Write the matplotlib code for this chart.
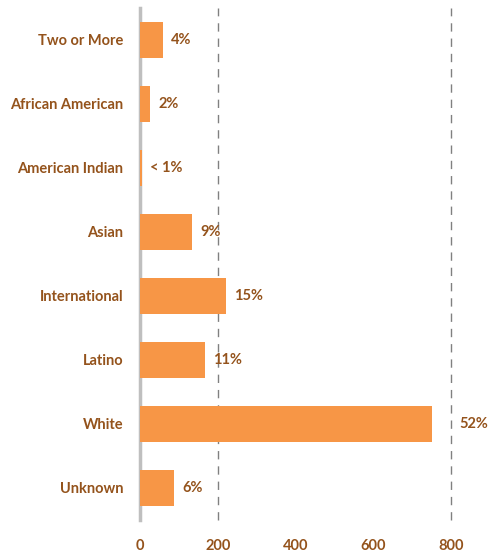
import matplotlib
matplotlib.use("Agg")
import matplotlib.pyplot as plt
import numpy as np

# enrollment by race / ethnicity
categories = ["Two or More", "African American", "American Indian", "Asian",
              "International", "Latino", "White", "Unknown"]
counts = [59, 26, 5, 134, 221, 167, 751, 87]
pct_labels = ["4%", "2%", "< 1%", "9%", "15%", "11%", "52%", "6%"]
xticks = [0, 200, 400, 600, 800]
gridlines = [200, 800]

bar_color = "#F79646"
text_color = "#94531C"

plt.rcParams['font.family'] = ['Lato', 'DejaVu Sans']

fig = plt.figure(figsize=(4.9, 5.56), dpi=100)
ax = fig.add_axes([0.286, 0.065, 0.634, 0.921])

y = np.arange(len(categories))
ax.barh(y, counts, height=0.57, color=bar_color, zorder=3)

for g in gridlines:
    ax.axvline(g, color="#808080", lw=1, ls=(0, (6, 5)), zorder=1, clip_on=False)

for yi, v, lab in zip(y, counts, pct_labels):
    if v > gridlines[-1] - 60:
        ax.annotate(lab, (gridlines[-1], yi), xytext=(6, 0), textcoords="offset points",
                    va="center", ha="left", color=text_color, fontsize=10.5,
                    fontweight="bold", annotation_clip=False)
    else:
        ax.annotate(lab, (v, yi), xytext=(6, 0), textcoords="offset points",
                    va="center", ha="left", color=text_color, fontsize=10.5,
                    fontweight="bold")

ax.set_xlim(0, 800)
ax.set_ylim(len(categories) - 0.5, -0.5)
ax.set_yticks(y)
ax.set_yticklabels(categories)
ax.set_xticks(xticks)
ax.tick_params(length=0, colors=text_color, labelsize=10.5)
ax.tick_params(axis="y", pad=12)
ax.tick_params(axis="x", pad=14)
for lab in ax.get_xticklabels() + ax.get_yticklabels():
    lab.set_fontweight("bold")

for s in ["top", "right", "bottom"]:
    ax.spines[s].set_visible(False)
ax.spines["left"].set_color("#BFBFBF")
ax.spines["left"].set_linewidth(2.5)

fig.savefig("out.png", dpi=100)
